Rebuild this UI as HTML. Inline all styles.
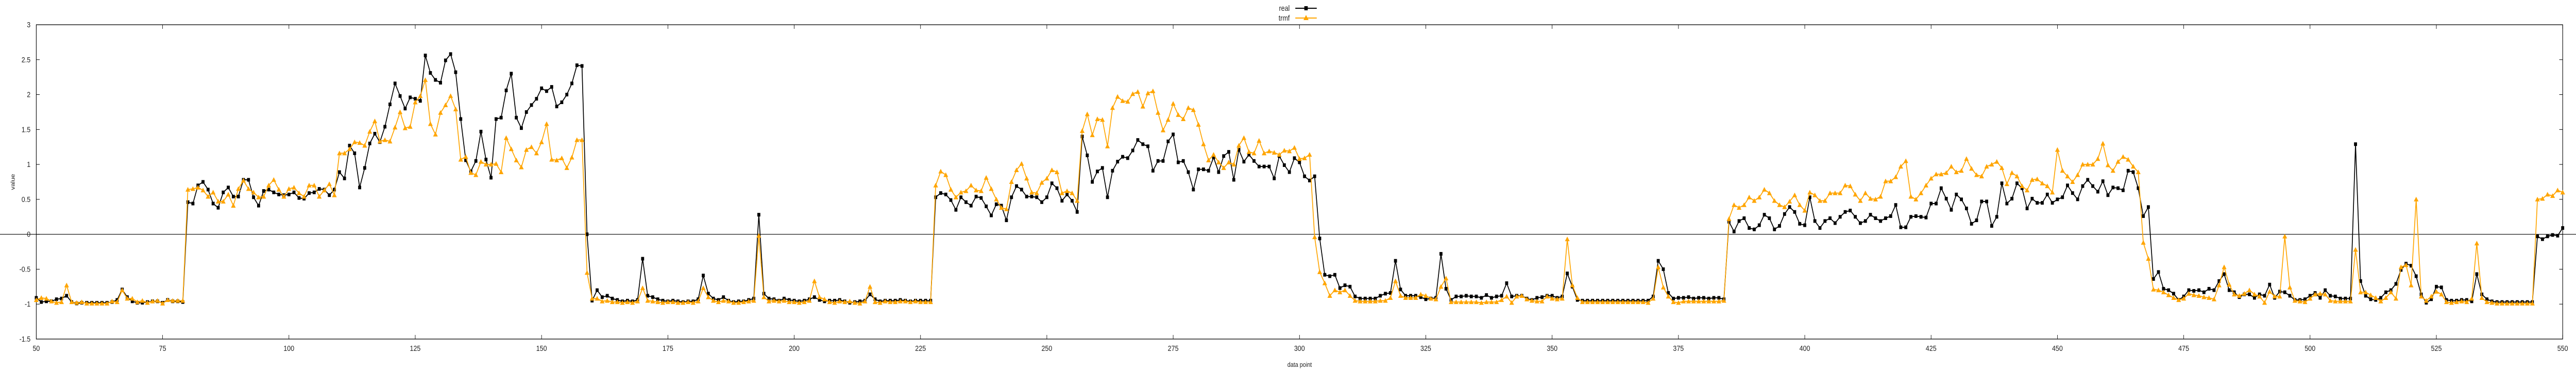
<!DOCTYPE html>
<html><head><meta charset="utf-8"><style>
html,body{margin:0;padding:0;background:#fff;width:100%;height:100%;overflow:hidden;}
svg{display:block;position:absolute;left:0;top:0;width:100vw;height:100vh;font-family:"Liberation Sans","DejaVu Sans",sans-serif;}
</style></head><body>
<svg id="chart" viewBox="0 0 6000 720" preserveAspectRatio="none" xmlns="http://www.w3.org/2000/svg">
<rect x="0" y="0" width="6000" height="720" fill="#fff"/>
<g id="axes"></g>
<g id="series"></g>
<g id="legend">
  <text x="3004" y="21" text-anchor="end" font-size="15" fill="#222">real</text>
  <line x1="3017" y1="16" x2="3067" y2="16" stroke="#000" stroke-width="2"/>
  <rect x="3038" y="12" width="8" height="8" fill="#000"/>
  <text x="3004" y="40" text-anchor="end" font-size="15" fill="#222">trmf</text>
  <line x1="3017" y1="35" x2="3067" y2="35" stroke="#FFA500" stroke-width="2"/>
  <polygon points="3042,29 3048,39 3036,39" fill="#FFA500"/>
</g>
<text x="3027" y="712" text-anchor="middle" font-size="13" fill="#222">data point</text>
<text x="34" y="353" text-anchor="middle" font-size="13" fill="#222" transform="rotate(-90 34 353)">value</text>
</svg>
<script>
const xStart = 50;
const xTicks = [50,75,100,125,150,175,200,225,250,275,300,325,350,375,400,425,450,475,500,525,550];
const yTicks = [3,2.5,2,1.5,1,0.5,0,-0.5,-1,-1.5];
const yTickLabels = ["3","2.5","2","1.5","1","0.5","0","-0.5","-1","-1.5"];
const real = [
-0.91,-0.97,-0.96,-0.96,-0.93,-0.92,-0.88,-0.97,-0.99,-0.98,
-0.98,-0.98,-0.98,-0.98,-0.98,-0.97,-0.94,-0.79,-0.90,-0.96,
-0.98,-0.98,-0.97,-0.96,-0.96,-0.98,-0.94,-0.96,-0.96,-0.97,
0.46,0.44,0.70,0.75,0.64,0.44,0.38,0.60,0.67,0.54,
0.54,0.78,0.78,0.53,0.41,0.62,0.64,0.60,0.57,0.56,
0.57,0.60,0.52,0.51,0.59,0.60,0.65,0.64,0.56,0.64,
0.89,0.80,1.27,1.16,0.67,0.95,1.30,1.44,1.32,1.54,
1.86,2.16,1.98,1.80,1.96,1.94,1.91,2.56,2.31,2.21,
2.17,2.49,2.58,2.32,1.65,1.06,0.90,1.05,1.47,1.07,
0.81,1.65,1.67,2.06,2.30,1.67,1.52,1.75,1.85,1.94,
2.09,2.05,2.11,1.83,1.89,2.00,2.16,2.42,2.41,0.00,
-0.95,-0.80,-0.90,-0.88,-0.92,-0.94,-0.96,-0.95,-0.96,-0.94,
-0.35,-0.88,-0.90,-0.93,-0.95,-0.96,-0.95,-0.96,-0.97,-0.96,
-0.96,-0.93,-0.59,-0.85,-0.92,-0.94,-0.90,-0.95,-0.97,-0.96,
-0.96,-0.94,-0.92,0.28,-0.85,-0.92,-0.93,-0.95,-0.92,-0.94,
-0.95,-0.96,-0.95,-0.93,-0.90,-0.94,-0.96,-0.95,-0.95,-0.94,
-0.96,-0.98,-0.97,-0.96,-0.95,-0.86,-0.93,-0.96,-0.95,-0.95,
-0.95,-0.94,-0.95,-0.96,-0.95,-0.95,-0.95,-0.95,
0.53,0.59,0.57,0.49,0.35,0.53,0.46,0.41,0.54,0.52,0.40,0.27,
0.43,0.41,0.20,0.53,0.69,0.64,0.54,0.54,0.53,0.46,
0.53,0.73,0.66,0.48,0.57,0.48,0.32,1.40,1.13,0.75,
0.90,0.95,0.53,0.91,1.04,1.11,1.09,1.20,1.35,1.29,
1.26,0.91,1.05,1.05,1.33,1.43,1.03,1.05,0.89,0.64,
0.93,0.93,0.91,1.10,0.89,1.12,1.18,0.78,1.21,1.04,
1.14,1.05,0.97,0.97,0.97,0.80,1.12,0.99,0.89,1.09,
1.03,0.83,0.77,0.83,-0.06,-0.58,-0.60,-0.58,-0.77,-0.73,
-0.75,-0.89,-0.92,-0.92,-0.92,-0.92,-0.88,-0.85,-0.84,-0.38,
-0.79,-0.88,-0.88,-0.88,-0.90,-0.93,-0.92,-0.91,-0.28,-0.78,
-0.94,-0.89,-0.89,-0.88,-0.89,-0.89,-0.91,-0.87,-0.91,-0.89,
-0.88,-0.70,-0.89,-0.88,-0.88,-0.92,-0.94,-0.91,-0.90,-0.88,
-0.88,-0.91,-0.89,-0.56,-0.75,-0.94,-0.95,-0.95,-0.95,-0.95,
-0.95,-0.95,-0.95,-0.95,-0.95,-0.95,-0.95,-0.95,-0.95,-0.95,
-0.89,-0.38,-0.50,-0.84,-0.92,-0.91,-0.91,-0.90,-0.92,-0.91,
-0.91,-0.92,-0.91,-0.91,-0.93,0.18,0.04,0.19,0.23,0.09,
0.07,0.13,0.28,0.23,0.07,0.12,0.29,0.39,0.32,0.15,
0.13,0.53,0.19,0.09,0.19,0.23,0.16,0.25,0.32,0.34,
0.25,0.16,0.19,0.28,0.23,0.19,0.23,0.26,0.42,0.10,
0.10,0.25,0.26,0.25,0.24,0.44,0.44,0.66,0.51,0.35,
0.57,0.50,0.37,0.15,0.20,0.47,0.47,0.12,0.25,0.73,
0.44,0.51,0.73,0.66,0.37,0.51,0.45,0.45,0.57,0.45,
0.50,0.53,0.70,0.59,0.50,0.69,0.78,0.69,0.61,0.76,
0.56,0.67,0.66,0.63,0.91,0.89,0.66,0.26,0.39,-0.64,
-0.54,-0.78,-0.80,-0.85,-0.94,-0.89,-0.80,-0.81,-0.80,-0.83,
-0.78,-0.80,-0.67,-0.57,-0.80,-0.83,-0.90,-0.86,-0.86,-0.91,
-0.86,-0.88,-0.72,-0.91,-0.82,-0.83,-0.88,-0.94,-0.94,-0.93,
-0.88,-0.84,-0.91,-0.80,-0.88,-0.89,-0.92,-0.92,-0.92,1.29,
-0.67,-0.88,-0.93,-0.94,-0.91,-0.83,-0.80,-0.71,-0.51,-0.42,
-0.45,-0.60,-0.86,-0.98,-0.93,-0.75,-0.76,-0.94,-0.95,-0.95,
-0.94,-0.94,-0.96,-0.57,-0.86,-0.93,-0.96,-0.97,-0.97,-0.97,
-0.97,-0.97,-0.97,-0.97,-0.97,-0.03,-0.07,-0.03,-0.01,-0.02,
0.09];
const trmf = [
-0.94,-0.91,-0.92,-0.96,-0.98,-0.97,-0.73,-0.97,-0.98,-0.97,
-0.99,-0.99,-0.99,-0.99,-0.99,-0.96,-0.97,-0.80,-0.92,-0.92,
-0.97,-0.95,-0.98,-0.96,-0.95,-0.99,-0.94,-0.95,-0.95,-0.95,
0.64,0.65,0.67,0.63,0.54,0.60,0.47,0.47,0.57,0.41,
0.65,0.77,0.65,0.60,0.53,0.54,0.70,0.78,0.64,0.54,
0.65,0.67,0.59,0.54,0.70,0.70,0.54,0.63,0.72,0.56,
1.16,1.16,1.22,1.32,1.31,1.27,1.47,1.62,1.33,1.35,
1.33,1.53,1.75,1.52,1.54,1.89,1.98,2.21,1.58,1.43,
1.74,1.85,1.98,1.79,1.07,1.11,0.88,0.85,1.04,1.00,
1.00,1.01,0.89,1.38,1.22,1.06,0.96,1.21,1.25,1.16,
1.32,1.58,1.07,1.06,1.09,0.95,1.10,1.35,1.35,-0.55,
-0.92,-0.92,-0.96,-0.95,-0.97,-0.97,-0.98,-0.97,-0.98,-0.96,
-0.77,-0.95,-0.96,-0.97,-0.98,-0.97,-0.97,-0.98,-0.98,-0.97,
-0.98,-0.96,-0.77,-0.90,-0.95,-0.97,-0.95,-0.96,-0.98,-0.98,
-0.97,-0.96,-0.95,-0.02,-0.90,-0.96,-0.95,-0.96,-0.95,-0.97,
-0.97,-0.98,-0.97,-0.95,-0.67,-0.90,-0.93,-0.97,-0.98,-0.96,
-0.97,-0.96,-0.98,-0.99,-0.96,-0.75,-0.97,-0.98,-0.96,-0.97,
-0.97,-0.96,-0.96,-0.97,-0.96,-0.97,-0.97,-0.97,
0.70,0.90,0.85,0.64,0.53,0.60,0.62,0.70,0.63,0.62,0.81,0.65,
0.50,0.38,0.36,0.75,0.92,1.01,0.80,0.60,0.59,0.74,
0.80,0.92,0.89,0.59,0.62,0.59,0.48,1.48,1.72,1.42,
1.65,1.64,1.26,1.81,1.97,1.91,1.90,2.01,2.04,1.83,
2.02,2.05,1.74,1.49,1.64,1.87,1.71,1.65,1.81,1.78,
1.57,1.29,1.06,1.14,1.03,0.95,1.03,1.00,1.27,1.38,
1.18,1.16,1.34,1.16,1.19,1.17,1.14,1.20,1.19,1.24,
1.08,1.09,1.14,-0.04,-0.54,-0.70,-0.88,-0.80,-0.83,-0.80,
-0.88,-0.95,-0.96,-0.96,-0.96,-0.96,-0.95,-0.95,-0.91,-0.67,
-0.88,-0.91,-0.91,-0.91,-0.86,-0.88,-0.92,-0.93,-0.75,-0.63,
-0.97,-0.97,-0.97,-0.97,-0.97,-0.97,-0.98,-0.97,-0.97,-0.97,
-0.94,-0.89,-0.98,-0.89,-0.88,-0.93,-0.95,-0.96,-0.96,-0.89,
-0.92,-0.93,-0.92,-0.07,-0.73,-0.91,-0.97,-0.97,-0.97,-0.97,
-0.97,-0.97,-0.97,-0.97,-0.97,-0.97,-0.97,-0.97,-0.97,-0.98,
-0.92,-0.47,-0.76,-0.89,-0.97,-0.98,-0.96,-0.96,-0.96,-0.96,
-0.96,-0.96,-0.96,-0.96,-0.95,0.22,0.42,0.38,0.42,0.53,
0.48,0.53,0.64,0.59,0.48,0.42,0.39,0.47,0.56,0.42,
0.34,0.60,0.56,0.48,0.48,0.59,0.59,0.59,0.70,0.69,
0.57,0.48,0.59,0.51,0.50,0.54,0.76,0.76,0.82,0.97,
1.05,0.54,0.50,0.59,0.70,0.80,0.86,0.86,0.88,0.97,
0.89,0.91,1.08,0.94,0.85,0.83,0.97,1.00,1.04,0.95,
0.72,0.88,0.83,0.69,0.63,0.78,0.79,0.73,0.69,0.60,
1.21,0.91,0.83,0.75,0.85,1.00,1.00,1.00,1.08,1.30,
0.99,0.91,1.04,1.11,1.07,0.97,0.89,-0.12,-0.35,-0.79,
-0.80,-0.83,-0.87,-0.91,-0.94,-0.92,-0.85,-0.87,-0.88,-0.90,
-0.91,-0.93,-0.73,-0.47,-0.72,-0.86,-0.88,-0.85,-0.80,-0.86,
-0.89,-0.98,-0.82,-0.89,-0.89,-0.03,-0.76,-0.95,-0.96,-0.97,
-0.92,-0.86,-0.85,-0.86,-0.95,-0.96,-0.96,-0.96,-0.96,-0.22,
-0.83,-0.83,-0.87,-0.91,-0.96,-0.91,-0.83,-0.92,-0.47,-0.44,
-0.73,0.50,-0.89,-0.95,-0.89,-0.82,-0.86,-0.97,-0.98,-0.97,
-0.96,-0.97,-0.92,-0.13,-0.91,-0.97,-0.98,-0.99,-0.99,-0.99,
-0.99,-0.99,-0.99,-0.99,-0.99,0.50,0.51,0.57,0.55,0.63,
0.60];

const NS = "http://www.w3.org/2000/svg";
const L = 84.5, R = 5969, T = 48, B = 658;
const xMin = 50, xMax = 550, yMin = -1.5, yMax = 3;
function xs(v){ return L + (v - xMin) / (xMax - xMin) * (R - L); }
function ys(v){ return B - (v - yMin) / (yMax - yMin) * (B - T); }
function mk(tag, attrs, parent){
  const e = document.createElementNS(NS, tag);
  for (const k in attrs) e.setAttribute(k, attrs[k]);
  parent.appendChild(e);
  return e;
}
const axes = document.getElementById('axes');
const series = document.getElementById('series');

const zl = mk('line', {x1:0, y1:ys(0), x2:6000, y2:ys(0), stroke:'#000', 'stroke-width':1.2}, axes);



const border = mk('rect', {x:L, y:T, width:R-L, height:B-T, fill:'none', stroke:'#000', 'stroke-width':1.3}, axes);



yTicks.forEach((v, i) => {
  const y = ys(v);
  const t1 = mk('line', {x1:L, y1:y, x2:L+8, y2:y, stroke:'#000', 'stroke-width':1}, axes);
  
  
  const t2 = mk('line', {x1:R, y1:y, x2:R-8, y2:y, stroke:'#000', 'stroke-width':1}, axes);
  
  
  const lb = mk('text', {x:71, y:y+5, 'text-anchor':'end', 'font-size':15, fill:'#222'}, axes);
  lb.textContent = yTickLabels[i];
  
  
});
xTicks.forEach(v => {
  const x = xs(v);
  const t1 = mk('line', {x1:x, y1:B, x2:x, y2:B-8, stroke:'#000', 'stroke-width':1}, axes);
  
  
  const t2 = mk('line', {x1:x, y1:T, x2:x, y2:T+8, stroke:'#000', 'stroke-width':1}, axes);
  
  
  const lb = mk('text', {x:x, y:681, 'text-anchor':'middle', 'font-size':15, fill:'#222'}, axes);
  lb.textContent = String(v);
  
  
});

function drawSeries(data, color, kind, name){
  const g = mk('g', {}, series);
  
  
  const pts = data.map((v, i) => xs(xStart + i).toFixed(2) + ',' + ys(v).toFixed(2)).join(' ');
  const pl = mk('polyline', {points:pts, fill:'none', stroke:color, 'stroke-width':2}, g);
  
  
  data.forEach((v, i) => {
    const x = xs(xStart + i), y = ys(v);
    let m;
    if (kind === 'square') {
      m = mk('rect', {x:x-3.5, y:y-3.5, width:7, height:7, fill:color}, g);
    } else {
      m = mk('polygon', {points:(x)+','+(y-5)+' '+(x+5.5)+','+(y+4)+' '+(x-5.5)+','+(y+4), fill:color}, g);
    }
    
    
  });
}
drawSeries(real, '#000000', 'square', 'real');
drawSeries(trmf, '#FFA500', 'triangle', 'trmf');
</script>
</body></html>
